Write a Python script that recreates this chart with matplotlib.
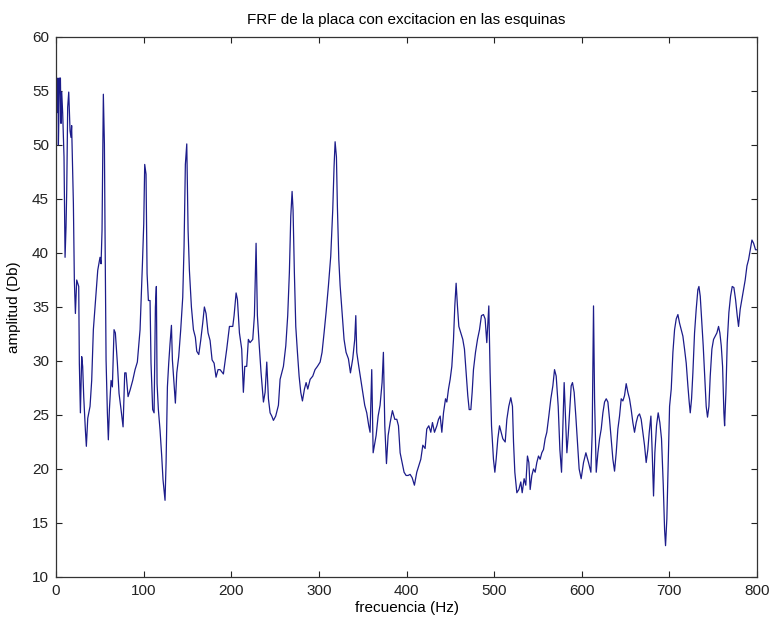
import matplotlib
matplotlib.use("Agg")
import matplotlib.pyplot as plt

plt.rcParams["font.family"] = ["Liberation Sans", "DejaVu Sans"]

# FRF medida, tramo 0-190 Hz
freq_a = [0, 0.8, 1.5, 2.2, 2.7, 3.4, 4.2, 5.0, 5.7, 6.5, 7.6, 9.1, 10.3, 11.4,
          12.2, 13.3, 14.5, 16.0, 17.1, 17.8, 18.6, 19.8, 20.9, 22.1, 23.6,
          25.9, 26.6, 27.8, 29.3, 30.4, 31.6, 33.5, 34.6, 36.2, 38.8, 40.7,
          42.6, 45.3, 47.6, 50.2, 51.4, 52.5, 54.0, 55.2, 55.9, 57.1, 58.6,
          59.7, 60.9, 62.8, 64.3, 66.2, 67.7, 70.0, 71.9, 74.2, 76.5, 78.4,
          79.9, 82.2, 84.5, 87.5, 90.2, 92.8, 95.9, 98.6, 100.1, 101.2, 102.7,
          103.9, 105.4, 107.3, 108.4, 110.3, 111.9, 113.4, 114.5, 115.3, 116.8,
          118.7, 120.6, 122.1, 124.4, 125.6, 127.1, 128.6, 130.1, 131.7, 132.8,
          134.7, 136.2, 137.8, 140.0, 142.3, 144.6, 146.1, 147.6, 149.2, 150.7,
          152.2, 154.5, 156.8, 159.0, 160.6, 162.9, 165.1, 167.4, 169.3, 171.2,
          173.5, 175.8, 178.1, 180.4, 182.6, 184.9, 187.2]
amp_a = [54.0, 54.8, 53.0, 56.2, 50.0, 53.5, 56.2, 56.2, 52.0, 54.9, 52.9, 48.9,
         39.6, 42.4, 45.8, 53.5, 54.9, 51.3, 50.7, 51.8, 48.9, 44.6, 37.5, 34.4,
         37.5, 36.9, 29.8, 25.2, 30.4, 29.5, 26.7, 23.6, 22.1, 24.7, 25.8, 28.2,
         32.9, 35.9, 38.4, 39.6, 39.0, 42.1, 54.7, 50.1, 42.1, 30.1, 25.2, 22.7,
         25.5, 28.2, 27.6, 32.9, 32.6, 29.8, 27.0, 25.5, 23.9, 28.9, 28.9, 26.7,
         27.3, 28.2, 29.2, 29.9, 32.9, 39.0, 42.7, 48.2, 47.3, 38.1, 35.6, 35.6,
         29.8, 25.5, 25.2, 35.0, 36.9, 27.9, 25.5, 23.6, 21.2, 19.0, 17.1, 20.6,
         27.6, 29.8, 31.6, 33.3, 30.1, 27.9, 26.1, 28.9, 30.4, 32.9, 35.9, 40.6,
         48.2, 50.1, 42.1, 38.4, 35.0, 32.9, 32.2, 30.9, 30.6, 31.9, 33.5, 35.0,
         34.4, 32.6, 31.9, 30.1, 29.8, 28.5, 29.2, 29.2]

# tramo 190-415 Hz
freq_b = [191.0, 194.8, 197.9, 201.7, 203.2, 205.5, 207.0, 209.3, 211.9, 213.8,
          215.4, 217.6, 219.5, 221.4, 224.5, 226.4, 228.3, 229.8, 231.7, 234.0,
          236.7, 238.6, 240.5, 242.4, 244.3, 246.2, 248.1, 250.7, 253.8, 255.7,
          259.5, 262.2, 264.4, 266.3, 267.9, 269.4, 270.5, 272.0, 273.6, 275.5,
          277.4, 279.3, 281.2, 283.5, 285.4, 287.3, 290.0, 293.0, 295.6, 298.3,
          301.4, 303.6, 305.9, 308.2, 310.9, 313.5, 315.8, 317.3, 318.5, 320.0,
          321.1, 322.7, 324.2, 326.5, 328.7, 331.0, 333.7, 336.0, 338.6, 340.9,
          342.1, 343.2, 345.5, 347.8, 350.1, 352.3, 354.6, 356.9, 358.4, 360.3,
          361.9, 363.4, 365.3, 367.6, 369.8, 372.1, 373.6, 375.2, 377.1, 379.0,
          381.3, 383.9, 386.6, 388.9, 390.8, 392.7, 395.0, 397.2, 399.5, 401.8,
          404.1, 406.4, 409.0, 411.7]
amp_b = [28.8, 31.1, 33.2, 33.2, 34.2, 36.3, 35.7, 32.6, 31.1, 27.1, 29.5, 29.5,
         32.0, 31.7, 32.0, 34.2, 40.9, 34.2, 31.7, 28.9, 26.2, 27.1, 29.9, 26.5,
         25.2, 24.9, 24.5, 24.9, 25.9, 28.3, 29.5, 31.4, 34.2, 38.2, 43.4, 45.7,
         44.0, 38.2, 33.2, 30.8, 28.6, 27.1, 26.3, 27.4, 28.0, 27.4, 28.3, 28.6,
         29.2, 29.5, 29.9, 30.8, 32.6, 34.5, 37.0, 39.7, 44.0, 48.0, 50.3, 48.9,
         44.3, 39.4, 37.0, 34.5, 32.0, 30.8, 30.2, 28.9, 30.2, 32.0, 34.2, 30.8,
         29.5, 28.3, 27.1, 25.9, 25.2, 24.0, 23.4, 29.2, 21.5, 22.2, 23.1, 24.9,
         25.9, 28.0, 30.8, 24.0, 20.5, 23.1, 24.3, 25.4, 24.6, 24.6, 24.0, 21.5,
         20.6, 19.7, 19.4, 19.4, 19.5, 19.2, 18.5, 19.7]

# tramo 415-600 Hz
freq_c = [416.3, 418.6, 421.2, 423.1, 425.4, 427.7, 429.6, 431.9, 434.6, 436.5,
          438.4, 440.3, 442.2, 444.5, 446.0, 447.9, 449.8, 451.7, 453.6, 455.1,
          456.6, 458.1, 459.7, 461.9, 464.2, 466.1, 468.0, 469.9, 471.5, 473.4,
          474.9, 476.4, 478.7, 481.0, 483.3, 485.5, 487.8, 489.7, 491.6, 493.9,
          495.4, 497.0, 499.2, 500.8, 502.3, 504.2, 506.1, 508.0, 509.9, 512.6,
          514.5, 516.7, 519.0, 520.9, 522.1, 523.6, 525.9, 528.2, 530.4, 532.0,
          534.2, 536.1, 538.0, 539.6, 541.1, 543.0, 544.9, 546.8, 548.7, 550.6,
          552.5, 554.4, 556.3, 558.2, 560.1, 562.4, 564.7, 567.0, 568.9, 570.8,
          573.1, 575.0, 576.9, 578.4, 579.9, 581.4, 583.0, 584.5, 586.0, 587.9,
          589.4, 591.3, 593.2, 595.1, 597.0, 599.3]
amp_c = [20.9, 22.2, 21.9, 23.7, 24.0, 23.4, 24.3, 23.4, 24.0, 24.6, 24.9, 23.4,
         25.2, 26.5, 26.2, 27.4, 28.3, 29.5, 32.0, 35.1, 37.2, 35.1, 33.2, 32.6,
         32.0, 31.1, 28.9, 26.8, 25.5, 25.5, 27.1, 29.2, 30.8, 32.0, 32.9, 34.2,
         34.3, 33.9, 31.7, 35.1, 28.9, 24.0, 20.9, 19.7, 20.9, 22.8, 24.0, 23.4,
         22.8, 22.5, 24.6, 25.8, 26.6, 25.8, 22.5, 19.7, 17.8, 18.1, 18.8, 17.8,
         19.1, 18.5, 21.2, 20.6, 18.1, 19.4, 20.0, 19.7, 20.6, 21.2, 20.9, 21.5,
         21.8, 22.8, 23.4, 24.9, 26.5, 27.7, 29.2, 28.6, 25.8, 21.8, 19.7, 24.0,
         28.0, 24.9, 21.5, 23.1, 25.2, 27.7, 28.0, 27.1, 24.9, 22.5, 20.0, 19.1]

# tramo 600-800 Hz
freq_d = [602.0, 604.7, 607.7, 610.4, 611.9, 613.4, 614.6, 616.5, 618.4, 620.3,
          622.2, 624.1, 626.0, 627.9, 629.8, 631.7, 633.6, 635.5, 637.4, 639.3,
          641.2, 643.1, 645.0, 646.9, 648.8, 650.7, 652.6, 654.5, 656.4, 658.3,
          660.2, 662.1, 664.0, 665.9, 667.8, 669.7, 671.6, 673.5, 675.4, 677.0,
          678.9, 680.4, 681.9, 683.4, 685.3, 687.2, 689.1, 691.0, 693.0, 694.5,
          695.6, 697.1, 698.7, 700.2, 702.1, 704.0, 705.9, 707.8, 709.7, 711.6,
          713.5, 715.4, 717.3, 719.2, 721.1, 722.6, 723.8, 725.3, 726.8, 728.7,
          730.6, 732.5, 733.7, 735.2, 736.7, 738.6, 740.5, 742.0, 743.5, 745.1,
          746.6, 748.5, 750.4, 752.3, 754.2, 756.1, 757.6, 759.2, 760.7, 762.2,
          763.0, 764.5, 766.0, 767.9, 769.8, 771.7, 773.6, 775.5, 777.4, 778.9,
          780.8, 782.7, 784.6, 786.5, 788.5, 790.4, 792.3, 794.2, 796.1, 798.3,
          800.0]
amp_d = [20.6, 21.5, 20.6, 19.7, 23.4, 35.1, 26.5, 19.7, 21.5, 22.8, 23.7, 25.2,
         26.2, 26.5, 26.2, 24.6, 22.8, 20.9, 19.8, 21.5, 23.7, 24.9, 26.5, 26.3,
         26.8, 27.9, 27.1, 26.5, 25.5, 24.3, 23.4, 24.3, 24.9, 25.1, 24.6, 23.4,
         22.2, 20.6, 21.8, 23.4, 24.9, 21.5, 17.5, 21.5, 24.0, 25.2, 24.3, 22.8,
         18.5, 14.4, 12.9, 15.4, 20.6, 25.8, 27.4, 30.8, 32.9, 33.9, 34.3, 33.5,
         32.9, 32.3, 31.1, 29.8, 27.7, 26.2, 25.2, 26.5, 28.9, 32.6, 34.8, 36.6,
         36.9, 36.0, 33.9, 31.4, 28.3, 25.8, 24.8, 25.8, 28.6, 31.1, 32.0, 32.3,
         32.6, 33.2, 32.6, 31.4, 29.5, 25.2, 24.0, 27.1, 31.7, 34.5, 36.0, 36.9,
         36.8, 35.7, 34.2, 33.2, 34.8, 35.7, 36.6, 37.5, 38.8, 39.4, 40.3, 41.2,
         40.9, 40.3, 40.3]

freq = freq_a + freq_b + freq_c + freq_d
amp = amp_a + amp_b + amp_c + amp_d

fig = plt.figure(figsize=(7.75, 6.26), dpi=100)
ax = fig.add_axes([0.0723, 0.0783, 0.9045, 0.8626])

ax.plot(freq, amp, color="#1c1c8a", linewidth=0.9)

ax.set_xlim(0, 800)
ax.set_ylim(10, 60)
ax.set_xticks(range(0, 801, 100))
ax.set_yticks(range(10, 61, 5))
ax.tick_params(direction="in", top=True, right=True, length=4.5, width=0.8,
               labelsize=11, pad=5, colors="#222222")
for sp in ax.spines.values():
    sp.set_color("#333333")
    sp.set_linewidth(0.9)

ax.set_title("FRF de la placa con excitacion en las esquinas", fontsize=11,
             pad=9)
ax.set_xlabel("frecuencia (Hz)", fontsize=11, labelpad=2)
ax.set_ylabel("amplitud (Db)", fontsize=11, labelpad=8)

fig.savefig("out.png", dpi=100)
plt.close(fig)
